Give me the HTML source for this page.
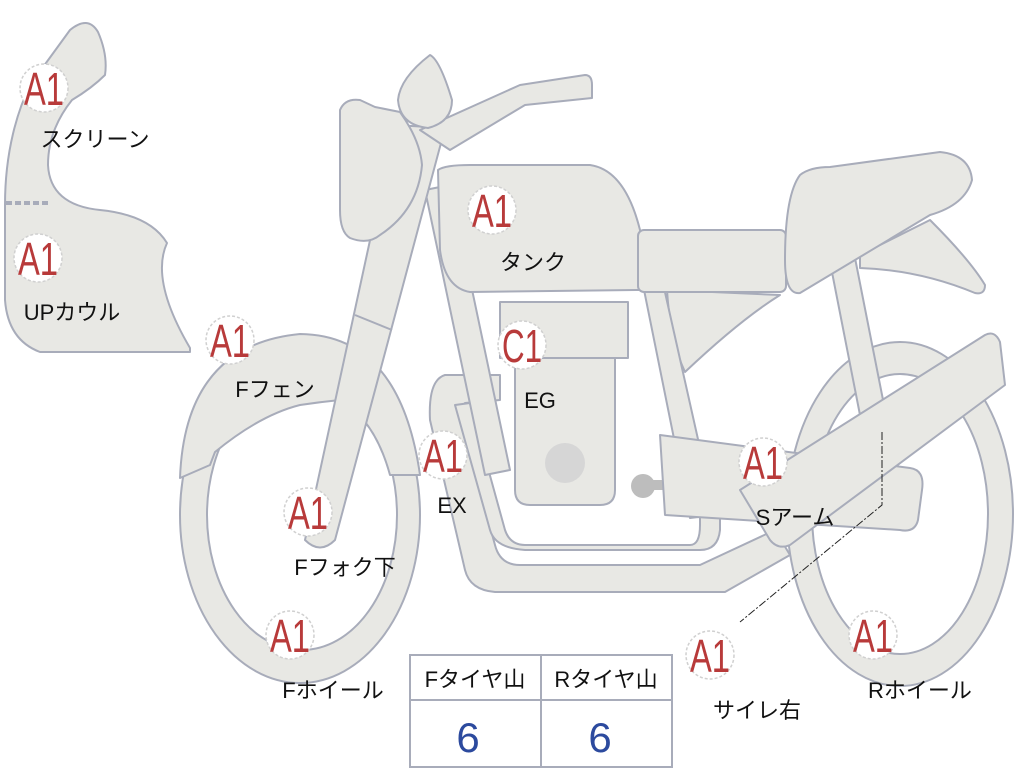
<!DOCTYPE html>
<html><head><meta charset="utf-8"><style>
html,body{margin:0;padding:0;background:#fff;width:1024px;height:768px;overflow:hidden}
svg{display:block}
.s{fill:#e8e8e4;stroke:#a8acba;stroke-width:2;stroke-linejoin:round}
.b{fill:#fff;stroke:#d0d0d0;stroke-width:1.5;stroke-dasharray:3 2}
.bt{font-family:"Liberation Sans",sans-serif;font-size:46px;fill:#b83a3a;text-anchor:middle}
.l{font-family:"Liberation Sans","Noto Sans CJK JP",sans-serif;font-size:22px;fill:#111;text-anchor:middle}
</style></head><body>
<svg width="1024" height="768" viewBox="0 0 1024 768">
<path class="s" d="M5,205 C5,150 18,110 30,85 L70,30 Q88,15 98,32 Q108,55 105,75 Q92,88 72,100 Q48,130 48,165 Q50,205 100,210 Q150,215 167,243 Q150,280 190,348 L190,352 L40,352 Q8,340 5,300 Z"/>
<line x1="6" y1="203" x2="48" y2="203" stroke="#a8acba" stroke-width="4" stroke-dasharray="6 3"/>
<ellipse class="s" cx="900" cy="514" rx="113" ry="172"/>
<ellipse fill="#fff" stroke="#a8acba" stroke-width="2" cx="900" cy="514" rx="88" ry="140"/>
<ellipse class="s" cx="300" cy="515" rx="120" ry="168"/>
<ellipse fill="#fff" stroke="#a8acba" stroke-width="2" cx="302" cy="515" rx="95" ry="135"/>
<path class="s" d="M180,478 Q185,345 300,334 Q400,335 420,475 L390,475 Q375,420 340,400 Q320,402 300,405 Q260,415 215,452 L210,465 Z"/>
<path class="s" d="M830,262 L855,258 L885,410 L860,415 Z"/>
<path class="s" d="M667,290 L780,295 Q740,320 685,372 Q670,340 667,290 Z"/>
<path class="s" d="M445,375 L500,375 L500,400 L465,403 Q458,410 462,425 L495,545 Q500,565 520,565 L700,565 L775,530 L790,555 L725,592 L495,592 Q470,590 465,570 L430,420 Q428,380 445,375 Z"/>
<path class="s" d="M455,405 L470,403 L505,530 Q510,545 525,545 L690,545 Q700,545 700,525 L700,515 L720,515 L720,530 Q718,550 700,550 L525,550 Q495,548 490,530 Z"/>
<path class="s" d="M425,190 L450,185 L510,470 L485,475 Z"/>
<path class="s" d="M640,270 L660,270 L715,515 L690,518 Z"/>
<path class="s" d="M515,358 L615,358 L615,490 Q615,505 600,505 L530,505 Q515,505 515,490 Z"/>
<rect class="s" x="500" y="302" width="128" height="56"/>
<circle cx="565" cy="463" r="20" fill="#d6d6d6"/>
<rect x="635" y="480" width="60" height="10" fill="#bdbdbd"/>
<circle cx="643" cy="486" r="12" fill="#bdbdbd"/><circle cx="692" cy="483" r="11" fill="#bdbdbd"/>
<path class="s" d="M660,435 L910,468 Q925,470 922,490 L918,520 Q915,533 900,530 L665,515 Z"/>
<path class="s" d="M740,490 L985,335 Q995,330 1000,342 L1005,385 L790,545 Q778,550 770,540 Z"/>
<path class="s" d="M395,125 L445,128 L335,540 Q320,555 305,540 Z"/>
<path class="s" d="M355,315 L392,330" fill="none"/>
<path class="s" d="M420,130 L520,85 L585,75 Q592,75 592,85 L592,98 L525,105 L450,150 Z"/>
<path class="s" d="M340,110 Q345,98 360,100 L375,107 L400,112 Q420,140 422,165 Q418,210 380,235 Q368,245 350,238 Q340,232 340,210 Z"/>
<path class="s" d="M430,55 Q440,60 452,100 Q452,122 428,128 Q400,125 398,100 Q400,78 430,55 Z"/>
<path class="s" d="M438,170 Q445,165 470,165 L590,165 Q625,170 640,230 Q648,275 640,290 L470,292 Q445,288 440,250 Z"/>
<rect class="s" x="638" y="230" width="148" height="62" rx="6"/>
<path class="s" d="M860,255 L930,220 Q970,260 985,285 Q985,295 975,293 Q920,270 860,268 Z"/>
<path class="s" d="M785,260 Q785,195 800,175 Q810,167 830,167 L940,152 Q970,155 972,180 Q965,205 930,215 L800,293 Q785,295 785,260 Z"/>
<path d="M882,432 L882,505 L740,622" fill="none" stroke="#222" stroke-width="1" stroke-dasharray="8 2 2 2"/>
<g>
<circle class="b" cx="44" cy="88" r="24"/><text class="bt" x="44" y="105" textLength="40" lengthAdjust="spacingAndGlyphs">A1</text>
<circle class="b" cx="38" cy="258" r="24"/><text class="bt" x="38" y="275" textLength="40" lengthAdjust="spacingAndGlyphs">A1</text>
<circle class="b" cx="230" cy="340" r="24"/><text class="bt" x="230" y="357" textLength="40" lengthAdjust="spacingAndGlyphs">A1</text>
<circle class="b" cx="492" cy="210" r="24"/><text class="bt" x="492" y="227" textLength="40" lengthAdjust="spacingAndGlyphs">A1</text>
<circle class="b" cx="522" cy="345" r="24"/><text class="bt" x="522" y="362" textLength="40" lengthAdjust="spacingAndGlyphs">C1</text>
<circle class="b" cx="443" cy="455" r="24"/><text class="bt" x="443" y="472" textLength="40" lengthAdjust="spacingAndGlyphs">A1</text>
<circle class="b" cx="308" cy="512" r="24"/><text class="bt" x="308" y="529" textLength="40" lengthAdjust="spacingAndGlyphs">A1</text>
<circle class="b" cx="290" cy="635" r="24"/><text class="bt" x="290" y="652" textLength="40" lengthAdjust="spacingAndGlyphs">A1</text>
<circle class="b" cx="763" cy="462" r="24"/><text class="bt" x="763" y="479" textLength="40" lengthAdjust="spacingAndGlyphs">A1</text>
<circle class="b" cx="710" cy="655" r="24"/><text class="bt" x="710" y="672" textLength="40" lengthAdjust="spacingAndGlyphs">A1</text>
<circle class="b" cx="873" cy="635" r="24"/><text class="bt" x="873" y="652" textLength="40" lengthAdjust="spacingAndGlyphs">A1</text>
</g>
<g>
<text class="l" x="95" y="147">スクリーン</text>
<text class="l" x="72" y="320">UPカウル</text>
<text class="l" x="275" y="397">Fフェン</text>
<text class="l" x="533" y="270">タンク</text>
<text class="l" x="540" y="408">EG</text>
<text class="l" x="452" y="513">EX</text>
<text class="l" x="345" y="575">Fフォク下</text>
<text class="l" x="333" y="698">Fホイール</text>
<text class="l" x="795" y="525">Sアーム</text>
<text class="l" x="757" y="718">サイレ右</text>
<text class="l" x="920" y="698">Rホイール</text>
</g>
<g fill="#fff" stroke="#a8acba" stroke-width="2">
<rect x="410" y="655" width="262" height="112"/>
<line x1="410" y1="700" x2="672" y2="700"/>
<line x1="541" y1="655" x2="541" y2="767"/>
</g>
<text class="l" x="475" y="687">Fタイヤ山</text>
<text class="l" x="606" y="687">Rタイヤ山</text>
<text x="468" y="752" font-family="Liberation Sans,sans-serif" font-size="42" fill="#2c4a9e" text-anchor="middle">6</text>
<text x="600" y="752" font-family="Liberation Sans,sans-serif" font-size="42" fill="#2c4a9e" text-anchor="middle">6</text>
</svg>
</body></html>
